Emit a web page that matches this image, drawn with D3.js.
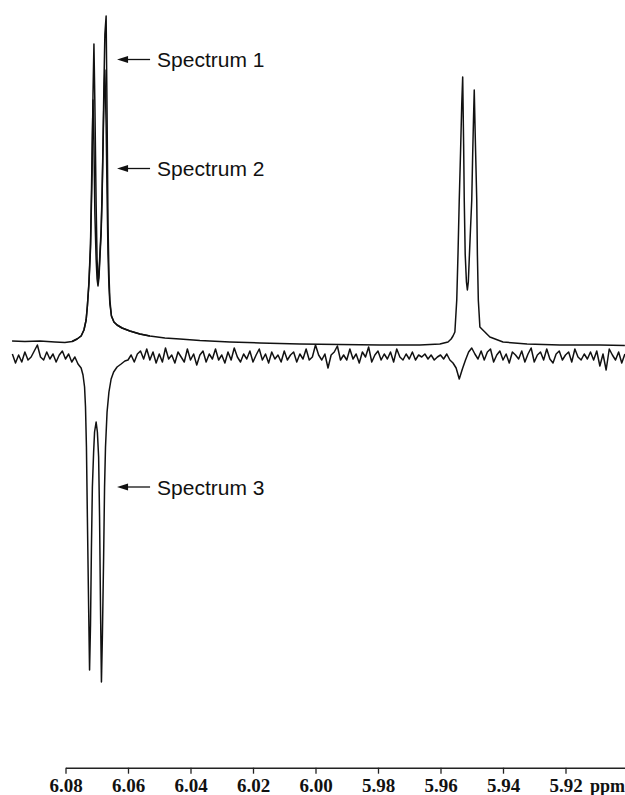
<!DOCTYPE html>
<meta charset="utf-8">
<script src="https://d3js.org/d3.v7.min.js"></script>
<style>
  body { margin: 0; background: #fff; }
</style>
<div id="chart"></div>
<script>

// ---- data (ppm, intensity in arbitrary units) ----

// spectrum 1: full trace
const spectrum1 = [
  [6.0971, 3], [6.0930, 2.5], [6.0882, 3], [6.0834, 2], [6.0802, 1.5], [6.0779, 2.5],
  [6.0763, 5], [6.0750, 8], [6.0741, 14], [6.0734, 24], [6.0730, 38], [6.0725, 60],
  [6.0720, 95], [6.0715, 170], [6.0712, 250], [6.0709, 300], [6.0706, 240], [6.0702, 140],
  [6.0699, 85], [6.0696, 62], [6.0693, 70], [6.0690, 90], [6.0686, 115], [6.0683, 150],
  [6.0680, 200], [6.0677, 260], [6.0674, 310], [6.0670, 328], [6.0667, 230], [6.0664, 120],
  [6.0661, 70], [6.0658, 44], [6.0653, 28], [6.0645, 22], [6.0635, 19], [6.0619, 16],
  [6.0594, 13], [6.0562, 10], [6.0530, 8], [6.0482, 6], [6.0434, 5], [6.0370, 3.5],
  [6.0274, 2], [6.0178, 1], [6.0050, 0], [5.9922, -0.5], [5.9794, -1], [5.9666, -1],
  [5.9602, 0], [5.9576, 2], [5.9566, 5], [5.9560, 8], [5.9554, 12], [5.9548, 44],
  [5.9544, 90], [5.9540, 144], [5.9536, 190], [5.9532, 240], [5.9529, 267], [5.9526, 200],
  [5.9524, 144], [5.9521, 90], [5.9517, 62], [5.9514, 54], [5.9511, 62], [5.9508, 85],
  [5.9504, 115], [5.9500, 144], [5.9497, 190], [5.9494, 230], [5.9492, 254], [5.9489, 210],
  [5.9484, 144], [5.9482, 90], [5.9479, 44], [5.9476, 28], [5.9474, 17], [5.9458, 12],
  [5.9442, 7], [5.9400, 2], [5.9323, 0], [5.9218, -1], [5.9090, -1], [5.9010, -1.5]
];

// spectrum 2: only where it departs from spectrum 1 (left doublet)
const spectrum2 = [
  [6.0779, 2.5], [6.0763, 5], [6.0750, 8], [6.0741, 14], [6.0734, 24], [6.0730, 38],
  [6.0725, 62], [6.0720, 100], [6.0717, 150], [6.0714, 210], [6.0712, 244], [6.0709, 200],
  [6.0706, 130], [6.0702, 85], [6.0699, 65], [6.0696, 58], [6.0693, 66], [6.0690, 85],
  [6.0686, 110], [6.0683, 145], [6.0680, 195], [6.0677, 245], [6.0674, 274], [6.0670, 220],
  [6.0667, 150], [6.0664, 90], [6.0661, 58], [6.0658, 40], [6.0653, 28], [6.0645, 22],
  [6.0635, 19], [6.0619, 16], [6.0594, 13], [6.0562, 10], [6.0530, 8]
];

// spectrum 3: difference trace
const spectrum3 = [
  [6.097, 3], [6.096, -6], [6.095, 2], [6.094, -5], [6.093, 5], [6.092, -3], [6.091, 0],
  [6.090, 6], [6.089, 12], [6.088, 0], [6.087, -3], [6.086, 5], [6.085, -2], [6.084, 3],
  [6.083, -5], [6.082, 2], [6.081, 6], [6.080, -2], [6.079, 3], [6.078, -5], [6.077, 0],
  [6.076, -7],
  [6.0750, -11], [6.0744, -18], [6.0739, -30], [6.0736, -50], [6.0733, -90], [6.0730, -160],
  [6.0726, -250], [6.0723, -313], [6.0720, -268], [6.0717, -190], [6.0714, -130], [6.0710, -95],
  [6.0707, -75], [6.0702, -65], [6.0698, -75], [6.0694, -100], [6.0691, -160], [6.0688, -250],
  [6.0685, -325], [6.0682, -280], [6.0678, -200], [6.0675, -130], [6.0672, -90], [6.0667, -55],
  [6.0661, -35], [6.0654, -22], [6.0646, -15], [6.0635, -10], [6.0622, -7], [6.0610, -4],
  [6.060, -3], [6.059, 2], [6.058, -5], [6.057, 3], [6.056, 6], [6.055, -2], [6.054, 8],
  [6.053, -3], [6.052, 5], [6.051, -6],
  [6.050, 3], [6.049, -5], [6.048, 9], [6.047, -2], [6.046, 2], [6.045, -6], [6.044, 5],
  [6.043, 0], [6.042, -5], [6.041, 8],
  [6.040, -3], [6.039, 3], [6.038, -8], [6.037, 2], [6.036, 6], [6.035, -5], [6.034, 3],
  [6.033, -2], [6.032, 8], [6.031, -3],
  [6.030, 2], [6.029, -6], [6.028, 5], [6.027, -3], [6.026, 9], [6.025, 0], [6.024, -5],
  [6.023, 3], [6.022, -2], [6.021, 6],
  [6.020, -5], [6.019, 2], [6.018, 8], [6.017, -3], [6.016, 3], [6.015, -6], [6.014, 5],
  [6.013, -2], [6.012, 2], [6.011, -5],
  [6.010, 6], [6.009, -3], [6.008, 2], [6.007, 5], [6.006, -5], [6.005, 3], [6.004, -2],
  [6.003, 8], [6.002, -3], [6.001, 0],
  [6.000, 12], [5.999, 2], [5.998, -3], [5.997, 3], [5.996, -11], [5.995, 2], [5.994, 5],
  [5.993, 11], [5.992, -3], [5.991, 2],
  [5.990, -3], [5.989, 8], [5.988, -2], [5.987, 3], [5.986, -6], [5.985, 5], [5.984, 0],
  [5.983, 10], [5.982, -5], [5.981, 2],
  [5.980, 6], [5.979, -3], [5.978, 3], [5.977, -2], [5.976, 5], [5.975, -5], [5.974, 8],
  [5.973, 0], [5.972, -3], [5.971, 3],
  [5.970, -2], [5.969, 5], [5.968, -3], [5.967, 2], [5.966, 0], [5.965, 3], [5.964, -2],
  [5.963, 2], [5.962, -3], [5.961, 0],
  [5.960, 2], [5.959, -2], [5.958, 3], [5.957, -3], [5.956, -6], [5.955, -11], [5.954, -22],
  [5.953, -12], [5.952, -3], [5.951, 5],
  [5.950, 9], [5.949, 3], [5.948, -2], [5.947, 6], [5.946, -3], [5.945, 5], [5.944, 8],
  [5.943, -5], [5.942, 2], [5.941, 6],
  [5.940, -3], [5.939, 3], [5.938, -6], [5.937, 5], [5.936, 2], [5.935, -2], [5.934, 6],
  [5.933, -5], [5.932, 3], [5.931, 9],
  [5.930, -5], [5.929, 2], [5.928, 5], [5.927, -3], [5.926, 8], [5.925, -2], [5.924, -6],
  [5.923, 3], [5.922, 6], [5.921, -3],
  [5.920, 2], [5.919, 5], [5.918, -5], [5.917, 8], [5.916, 0], [5.915, -3], [5.914, 3],
  [5.913, -2], [5.912, 5], [5.911, -3],
  [5.910, 6], [5.909, -9], [5.908, 3], [5.907, -13], [5.906, 8], [5.905, 2], [5.904, -3],
  [5.903, 5], [5.902, -6], [5.901, 3]
];

const tickValues = [6.08, 6.06, 6.04, 6.02, 6.00, 5.98, 5.96, 5.94, 5.92];
const axisUnit = "ppm";

// labels with the point (ppm, intensity) each arrow touches
const labels = ["Spectrum 1", "Spectrum 2", "Spectrum 3"];
const labelPpm = [6.0635, 6.0635, 6.0635];
const labelLevel = [284.5, 175.5, -130];

// ---- layout ----
const width = 625, height = 795;
const spec3Shift = 13;   // vertical offset of the difference trace
const axisY = 767.7;

const svg = d3.select("#chart")
  .append("svg")
    .attr("width", width)
    .attr("height", height);

const x = d3.scaleLinear()
  .domain([6.08 + 65.5 / 3125, 6.08 - (width - 65.5) / 3125])
  .range([0, width]);

const y = d3.scaleLinear()
  .domain([0, 330])
  .range([344, 14]);

const line = d3.line()
  .x(d => x(d[0]))
  .y(d => y(d[1]));

const traces = svg.append("g")
  .attr("fill", "none")
  .attr("stroke", "#111")
  .attr("stroke-width", 1.5)
  .attr("stroke-linejoin", "round");

traces.append("path").attr("d", line(spectrum2));
traces.append("path").attr("d", line(spectrum1));
traces.append("path")
  .attr("transform", `translate(0,${spec3Shift})`)
  .attr("d", line(spectrum3));

// arrows + labels
const ann = svg.append("g");
labels.forEach((t, i) => {
  const ax = x(labelPpm[i]);
  const ay = y(labelLevel[i]) + (i === 2 ? spec3Shift : 0);
  ann.append("path")
    .attr("d", `M${ax},${ay}L${ax + 11},${ay - 3.5}L${ax + 11},${ay + 3.5}Z`)
    .attr("fill", "#111");
  ann.append("line")
    .attr("x1", ax + 10).attr("x2", ax + 33)
    .attr("y1", ay).attr("y2", ay)
    .attr("stroke", "#111")
    .attr("stroke-width", 1.3);
  ann.append("text")
    .attr("x", ax + 40)
    .attr("y", ay + 7.6)
    .attr("font-family", "Liberation Sans, Arial, sans-serif")
    .attr("font-size", "21px")
    .attr("fill", "#111")
    .text(t);
});

// x axis
const xa = x.copy().domain([6.08, x.domain()[1]]).range([x(6.08), width]);
const axis = svg.append("g")
  .attr("transform", `translate(0,${axisY})`)
  .call(d3.axisBottom(xa)
    .tickValues(tickValues)
    .tickFormat(d3.format(".2f"))
    .tickSize(6)
    .tickSizeOuter(0));

axis.select(".domain").attr("stroke", "#222").attr("stroke-width", 1.5);
axis.selectAll(".tick line").attr("stroke", "#222").attr("stroke-width", 1.3);
axis.selectAll(".tick text")
  .attr("y", 24.5)
  .attr("dy", 0)
  .attr("fill", "#111")
  .attr("font-family", "Liberation Serif, Times New Roman, serif")
  .attr("font-weight", "bold")
  .attr("font-size", "19px");

svg.append("text")
  .attr("x", 590)
  .attr("y", axisY + 24.5)
  .attr("fill", "#111")
  .attr("font-family", "Liberation Serif, Times New Roman, serif")
  .attr("font-weight", "bold")
  .attr("font-size", "18px")
  .text(axisUnit);

</script>
